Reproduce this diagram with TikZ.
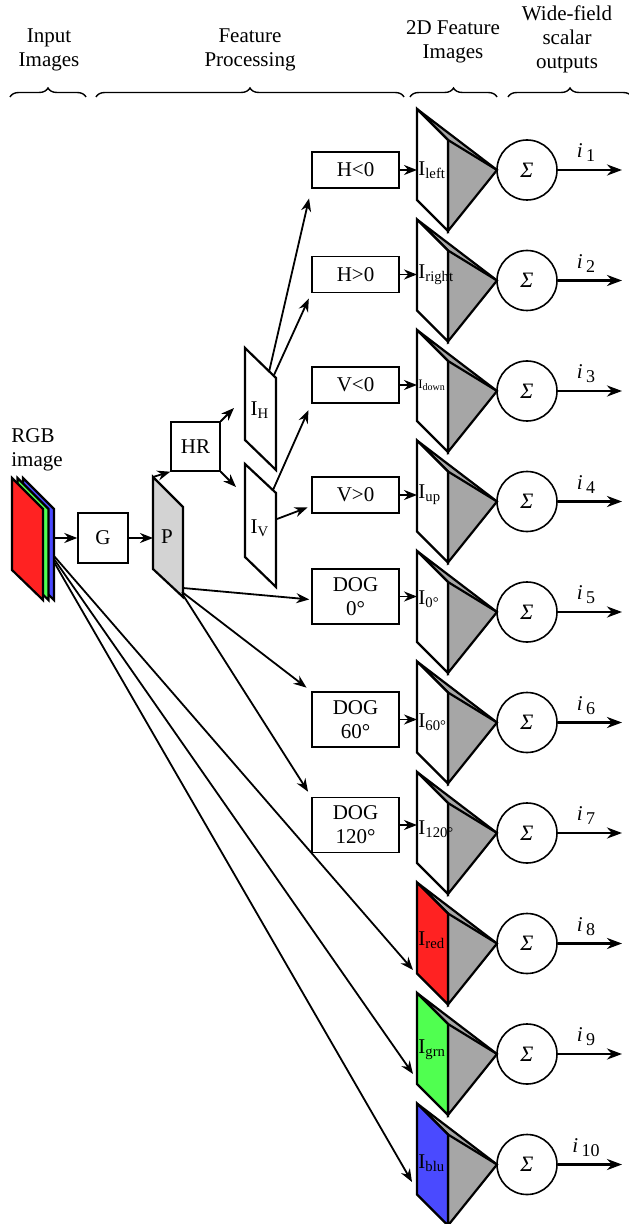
\documentclass[tikz,border=0pt]{standalone}
\usepackage{fontspec}
\setmainfont{Liberation Serif}
\usetikzlibrary{arrows.meta,positioning,decorations.pathreplacing}

\definecolor{rgbred}{RGB}{255,34,34}
\definecolor{rgbgreen}{RGB}{80,255,80}
\definecolor{rgbblue}{RGB}{74,74,255}
\definecolor{pyrgray}{RGB}{166,166,166}
\definecolor{pgray}{RGB}{211,211,211}

\tikzset{
  box/.style={draw, line width=0.7pt, minimum width=43.5pt, minimum height=18pt, inner sep=0pt, align=center},
  sumnode/.style={draw, circle, line width=0.8pt, minimum size=30pt, inner sep=0pt, font=\fontsize{11}{12}\selectfont},
  link/.style={line width=0.9pt, -{Stealth[length=6.5pt,width=5pt]}},
  outlink/.style={line width=1.4pt, -{Stealth[length=7.5pt,width=5.5pt]}},
  sheet/.style={draw, line width=1.1pt},
  flabel/.style={anchor=west, inner sep=0pt},
  heading/.style={align=center, inner sep=0pt},
  bracket/.style={decorate, decoration={brace, amplitude=4.5pt}, line width=0.7pt},
}

\begin{document}
\begin{tikzpicture}[x=0.5pt, y=-0.5pt, font=\fontsize{10.5}{12}\selectfont]
  \useasboundingbox (0,0) rectangle (628,1224);

  % headings
  \node[heading] (tin) at (49,50) {Input\\Images};
  \node[heading] (tfp) at (250,50) {Feature\\Processing};
  \node[heading] (t2d) at (453,42) {2D Feature\\Images};
  \node[heading] (twf) at (567,39) {Wide-field\\scalar\\outputs};
  \draw[bracket] (10,97) -- (86,97);
  \draw[bracket] (96,97) -- (404,97);
  \draw[bracket] (410,97) -- (497,97);
  \draw[bracket] (508,97) -- (632,97);

  % input image
  \node[anchor=west, align=left, inner sep=0pt] (rgblab) at (11,450) {RGB\\image};
  \foreach \dx/\c in {11/rgbblue, 5.5/rgbgreen, 0/rgbred}
    \filldraw[sheet, fill=\c] (12+\dx,478) -- ++(31,31) -- ++(0,91) -- ++(-31,-30) -- cycle;
  \coordinate (rgbout) at (54,538);

  \node[box, minimum width=25pt, minimum height=25pt] (g) at (103,538) {G};

  \filldraw[sheet, fill=pgray] (153,477) -- (183,507) -- (183,597) -- (153,569) -- cycle;
  \node (p) at (167,537) {P};
  \coordinate (pin) at (153,538);
  \coordinate (ptl) at (153,477);

  \node[box, minimum width=24.5pt, minimum height=24.5pt] (hr) at (195.5,446.5) {HR};

  \draw[sheet] (245,348) -- (276,378) -- (276,470) -- (245,440) -- cycle;
  \node (ih) at (260,410) {I\textsubscript{H}};
  \draw[sheet] (245,464) -- (276,493) -- (276,587) -- (245,557) -- cycle;
  \node (iv) at (260,528) {I\textsubscript{V}};

  % filter boxes
  \node[box] (hneg) at (355.5,170) {H<0};
  \node[box] (hpos) at (355.5,274.5) {H>0};
  \node[box] (vneg) at (355.5,385) {V<0};
  \node[box] (vpos) at (355.5,495) {V>0};
  \node[box, minimum height=27.5pt] (dog0) at (355.5,596.5) {DOG\\0°};
  \node[box, minimum height=27.5pt] (dog60) at (355.5,719.5) {DOG\\60°};
  \node[box, minimum height=27.5pt] (dog120) at (355.5,825) {DOG\\120°};

  % feature images and sums
  \foreach \k/\fc in {0/white,1/white,2/white,3/white,4/white,5/white,6/white,7/rgbred,8/rgbgreen,9/rgbblue}{
    \pgfmathsetmacro\t{109+110.5*\k}
    \pgfmathtruncatemacro\n{\k+1}
    \filldraw[sheet, fill=pyrgray] (417,\t) -- (497,\t+61) -- (448,\t+122) -- (448,\t+31) -- cycle;
    \filldraw[sheet, fill=\fc] (417,\t) -- (448,\t+31) -- (448,\t+122) -- (417,\t+91) -- cycle;
    \draw[sheet] (448,\t+31) -- (497,\t+61);
    \node[sumnode] (s\n) at (527,\t+61) {\textit{Σ}};
    \coordinate (o\n) at (622,\t+61);
    \draw[outlink] (s\n) -- (o\n);
    \node (i\n) at (586,\t+44) {\textit{i}\,\raisebox{-2pt}{\fontsize{9}{10}\selectfont\n}};
  }

  \node[flabel] (fleft) at (418,170) {I\textsubscript{left}};
  \node[flabel] (fright) at (418,275) {I\textsubscript{right}};
  \node[flabel] (fdown) at (418,385) {\fontsize{6.5}{7}\selectfont I\raisebox{-1pt}{\fontsize{5}{6}\selectfont down}};
  \node[flabel] (fup) at (418,495) {I\textsubscript{up}};
  \node[flabel] (fz) at (418,599) {I\textsubscript{0°}};
  \node[flabel] (fsixty) at (418,722) {I\textsubscript{60°}};
  \node[flabel] (fotw) at (418,829) {I\textsubscript{120°}};
  \node[flabel] (fred) at (418,940) {I\textsubscript{red}};
  \node[flabel] (fgrn) at (418,1050) {I\textsubscript{grn}};
  \node[flabel] (fblu) at (418,1163) {I\textsubscript{blu}};

  % connectors
  \draw[link] (rgbout) -- (g);
  \draw[link] (g) -- (pin);
  \draw[link] (ptl) -- (hr.south west);
  \coordinate (ihin) at (234,408);
  \coordinate (ivin) at (236,487);
  \draw[link] (hr.north east) -- (ihin);
  \draw[link] (hr.south east) -- (ivin);

  \coordinate (iha) at (269,372);
  \coordinate (ihb) at (274,375);
  \coordinate (iva) at (273,490);
  \coordinate (ivb) at (277,519);
  \draw[link, shorten >=5pt] (iha) -- (hneg.south west);
  \draw[link, shorten >=3pt] (ihb) -- (hpos.south west);
  \draw[link, shorten >=3.5pt] (iva) -- (vneg.south west);
  \draw[link, shorten >=2pt] (ivb) -- (vpos.194);

  \coordinate (pa) at (183,588);
  \coordinate (pb) at (182,592);
  \coordinate (pc) at (183,595);
  \draw[link, shorten >=1pt] (pa) -- (dog0.184);
  \draw[link, shorten >=3pt] (pb) -- (dog60.north west);
  \draw[link, shorten >=3pt] (pc) -- (dog120.north west);

  \foreach \b/\y in {hneg/170, hpos/274.5, vneg/385, vpos/495, dog0/596.5, dog60/719.5, dog120/825}
    \draw[link] (\b.east) -- (417,\y);

  \coordinate (ra) at (54,556);
  \coordinate (rb) at (54,559);
  \coordinate (rc) at (54,562);
  \coordinate (redin) at (413,970);
  \coordinate (grnin) at (413,1074);
  \coordinate (bluin) at (412,1182);
  \draw[link] (ra) -- (redin);
  \draw[link] (rb) -- (grnin);
  \draw[link] (rc) -- (bluin);
\end{tikzpicture}
\end{document}
